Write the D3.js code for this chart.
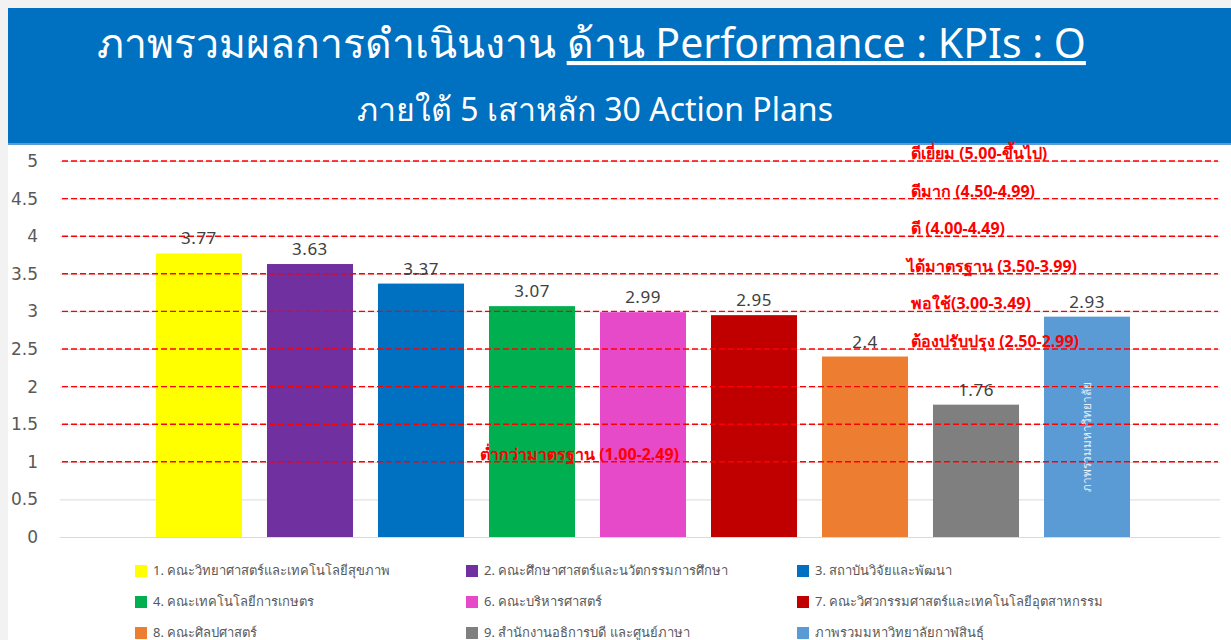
<!DOCTYPE html>
<html>
<head>
<meta charset="utf-8">
<script src="https://cdn.jsdelivr.net/npm/d3@7"></script>
<style>
  body { margin: 0; background: #f2f2f2; }
  svg { display: block; font-family: Tahoma, "Noto Sans", "DejaVu Sans", sans-serif; }
</style>
</head>
<body>
<svg id="chart" width="1231" height="640"></svg>
<script>
// data
let units = [
  "1. คณะวิทยาศาสตร์และเทคโนโลยีสุขภาพ",
  "2. คณะศึกษาศาสตร์และนวัตกรรมการศึกษา",
  "3. สถาบันวิจัยและพัฒนา",
  "4. คณะเทคโนโลยีการเกษตร",
  "6. คณะบริหารศาสตร์",
  "7. คณะวิศวกรรมศาสตร์และเทคโนโลยีอุตสาหกรรม",
  "8. คณะศิลปศาสตร์",
  "9. สำนักงานอธิการบดี และศูนย์ภาษา",
  "ภาพรวมมหาวิทยาลัยกาฬสินธุ์"
];
let scores = [3.77, 3.63, 3.37, 3.07, 2.99, 2.95, 2.4, 1.76, 2.93];
let barColors = ["#FFFF00", "#7030A0", "#0070C0", "#00B050", "#E64AC8", "#C00000", "#ED7D31", "#7F7F7F", "#5B9BD5"];
let yTicks = [0, 0.5, 1, 1.5, 2, 2.5, 3, 3.5, 4, 4.5, 5];
let redLines = [1, 1.5, 2, 2.5, 3, 3.5, 4, 4.5, 5];
let levelNames = [
  "ดีเยี่ยม (5.00-ขึ้นไป)",
  "ดีมาก (4.50-4.99)",
  "ดี (4.00-4.49)",
  "ได้มาตรฐาน (3.50-3.99)",
  "พอใช้(3.00-3.49)",
  "ต้องปรับปรุง (2.50-2.99)",
  "ต่ำกว่ามาตรฐาน (1.00-2.49)"
];
let levelValues = [5, 4.5, 4, 3.5, 3, 2.5, 1];
let titleMain = "ภาพรวมผลการดำเนินงาน ";
let titleUnder = "ด้าน Performance : KPIs : O";
let subtitle = "ภายใต้ 5 เสาหลัก 30 Action Plans";
let barNote = "ภาพรวมมหาวิทยาลัย";

let svg = d3.select("#chart");

// white card + blue header
svg.append("rect").attr("x", 8).attr("y", 8).attr("width", 1223).attr("height", 632).attr("fill", "#fff");
svg.append("rect").attr("x", 8).attr("y", 8).attr("width", 1223).attr("height", 135).attr("fill", "#0070C0");
svg.append("rect").attr("x", 8).attr("y", 143).attr("width", 1223).attr("height", 2).attr("fill", "#5B9BD5");

let title = svg.append("text")
  .attr("x", 97).attr("y", 58)
  .attr("fill", "#fff")
  .style("font-size", "41px");
title.append("tspan").text(titleMain);
title.append("tspan").attr("text-decoration", "underline").text(titleUnder);

svg.append("text")
  .attr("x", 595).attr("y", 121)
  .attr("text-anchor", "middle")
  .attr("fill", "#fff")
  .style("font-size", "32px")
  .text(subtitle);

// scales
let y = d3.scaleLinear().domain([0, 5]).range([537, 161]);
let x = d3.scaleBand().domain(units).range([131, 1155]).paddingInner(0.225).paddingOuter(0.225);

// grid
let g = svg.append("g");
g.selectAll("line.grid")
  .data(yTicks)
  .join("line")
  .attr("class", "grid")
  .attr("x1", 60).attr("x2", 1220)
  .attr("y1", d => y(d) + 0.5).attr("y2", d => y(d) + 0.5)
  .attr("stroke", "#d9d9d9").attr("stroke-width", 1);

// y axis labels
let yAxis = d3.axisLeft(y).tickValues(yTicks).tickSize(0).tickPadding(0).tickFormat(d => d3.format("")(d));
let ya = svg.append("g").attr("transform", "translate(38,0)").call(yAxis);
ya.select(".domain").remove();
ya.selectAll("text").attr("fill", "#595959").style("font-size", "17px").style("font-family", "Tahoma, 'DejaVu Sans', sans-serif");

// bars
svg.selectAll("rect.bar")
  .data(scores)
  .join("rect")
  .attr("class", "bar")
  .attr("x", (d, i) => x(units[i]))
  .attr("y", d => y(d))
  .attr("width", x.bandwidth())
  .attr("height", d => y(0) - y(d))
  .attr("fill", (d, i) => barColors[i]);

// red dashed level lines
svg.selectAll("line.red")
  .data(redLines)
  .join("line")
  .attr("class", "red")
  .attr("x1", 62).attr("x2", 1218)
  .attr("y1", d => y(d)).attr("y2", d => y(d))
  .attr("stroke", "#FF0000").attr("stroke-width", 1.4)
  .attr("stroke-dasharray", "6,3");

// value labels
svg.selectAll("text.val")
  .data(scores)
  .join("text")
  .attr("class", "val")
  .attr("x", (d, i) => x(units[i]) + x.bandwidth() / 2)
  .attr("y", d => y(d) - 9)
  .attr("text-anchor", "middle")
  .attr("fill", "#404040")
  .style("font-size", "17px")
  .style("letter-spacing", "0.5px")
  .text(d => d);

// level annotations
svg.selectAll("text.level")
  .data(levelNames)
  .join("text")
  .attr("class", "level")
  .attr("x", (d, i) => levelValues[i] === 1 ? 480 : (levelValues[i] === 3.5 ? 907 : 911))
  .attr("y", (d, i) => y(levelValues[i]) - 2)
  .attr("fill", "#FF0000")
  .style("font-size", "16px")
  .style("font-weight", "bold")
  .text(d => d);

// note inside last bar
let last = units[units.length - 1];
svg.append("text")
  .attr("transform", `translate(${x(last) + x.bandwidth() / 2 + 4},437) rotate(-90)`)
  .attr("text-anchor", "middle")
  .attr("fill", "#e8f0fa")
  .style("font-size", "12px")
  .text(barNote);

// legend
let legend = svg.append("g");
let items = legend.selectAll("g")
  .data(units)
  .join("g")
  .attr("transform", (d, i) => `translate(${135 + (i % 3) * 331},${570 + Math.floor(i / 3) * 31})`);
items.append("rect")
  .attr("x", 0).attr("y", -5)
  .attr("width", 12).attr("height", 12)
  .attr("fill", (d, i) => barColors[i]);
items.append("text")
  .attr("x", 18).attr("y", 5)
  .attr("fill", "#595959")
  .style("font-size", "13px")
  .text(d => d);
</script>
</body>
</html>
